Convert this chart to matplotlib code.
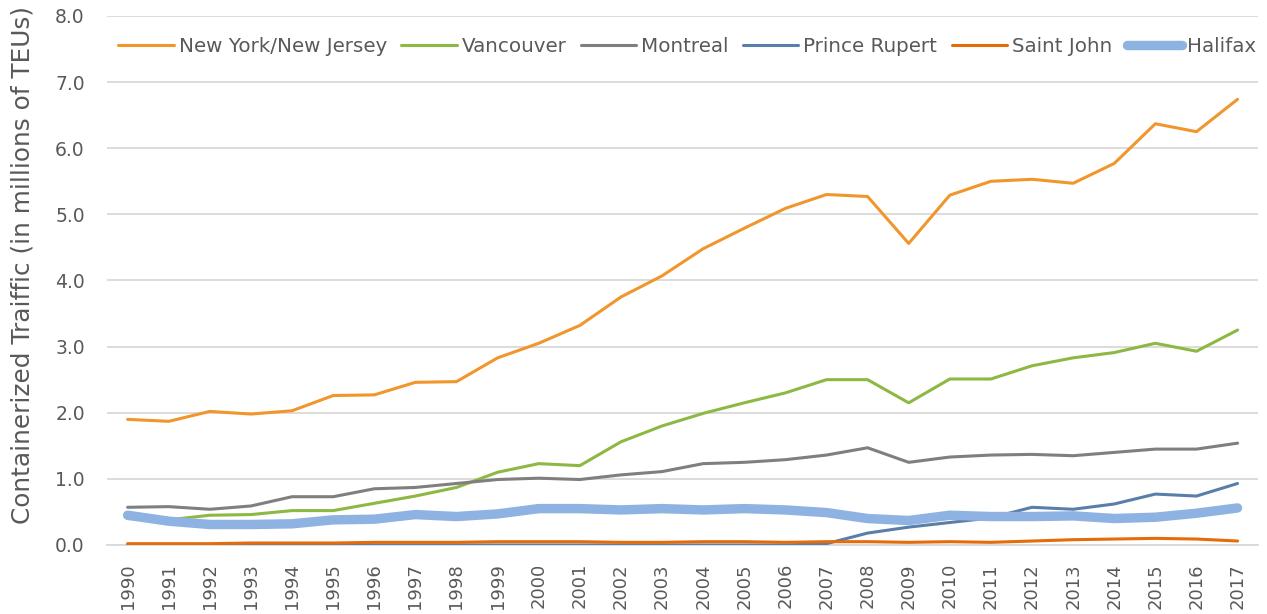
import matplotlib
matplotlib.use("Agg")
import matplotlib.pyplot as plt

years = list(range(1990, 2018))
ny_nj = [1.90, 1.87, 2.02, 1.98, 2.03, 2.26, 2.27, 2.46, 2.47, 2.83, 3.05, 3.32, 3.75, 4.07,
         4.48, 4.79, 5.09, 5.30, 5.27, 4.56, 5.29, 5.50, 5.53, 5.47, 5.77, 6.37, 6.25, 6.74]
vancouver = [0.40, 0.38, 0.45, 0.46, 0.52, 0.52, 0.63, 0.74, 0.87, 1.10, 1.23, 1.20, 1.56, 1.80,
             1.99, 2.15, 2.30, 2.50, 2.50, 2.15, 2.51, 2.51, 2.71, 2.83, 2.91, 3.05, 2.93, 3.25]
montreal = [0.57, 0.58, 0.54, 0.59, 0.73, 0.73, 0.85, 0.87, 0.93, 0.99, 1.01, 0.99, 1.06, 1.11,
            1.23, 1.25, 1.29, 1.36, 1.47, 1.25, 1.33, 1.36, 1.37, 1.35, 1.40, 1.45, 1.45, 1.54]
prince_rupert = [0.00, 0.00, 0.00, 0.00, 0.00, 0.00, 0.00, 0.00, 0.00, 0.00, 0.00, 0.00, 0.00, 0.00,
                 0.00, 0.00, 0.00, 0.02, 0.18, 0.27, 0.34, 0.41, 0.57, 0.54, 0.62, 0.77, 0.74, 0.93]
saint_john = [0.02, 0.02, 0.02, 0.03, 0.03, 0.03, 0.04, 0.04, 0.04, 0.05, 0.05, 0.05, 0.04, 0.04,
              0.05, 0.05, 0.04, 0.05, 0.05, 0.04, 0.05, 0.04, 0.06, 0.08, 0.09, 0.10, 0.09, 0.06]
halifax = [0.45, 0.36, 0.31, 0.31, 0.32, 0.38, 0.39, 0.46, 0.43, 0.47, 0.55, 0.55, 0.53, 0.55,
           0.53, 0.55, 0.53, 0.49, 0.40, 0.37, 0.45, 0.43, 0.43, 0.44, 0.40, 0.42, 0.48, 0.56]

yticks = [0, 1, 2, 3, 4, 5, 6, 7, 8]

plt.rcParams['font.family'] = ['DejaVu Sans']
fig = plt.figure(figsize=(12.67, 6.14), dpi=100)
ax = fig.add_axes([0.0845, 0.1124, 0.9085, 0.8616])

series = [
    ("New York/New Jersey", ny_nj, "#F0962D", 2.2),
    ("Vancouver", vancouver, "#8DB843", 2.2),
    ("Montreal", montreal, "#7F7F7F", 2.2),
    ("Prince Rupert", prince_rupert, "#5A7EAA", 2.2),
    ("Saint John", saint_john, "#E46C0A", 2.2),
    ("Halifax", halifax, "#8EB3E2", 6.8),
]
for name, vals, col, lw in series:
    ax.plot(years, vals, color=col, lw=lw, label=name, solid_capstyle='round', zorder=3)

ax.set_xlim(1989.5, 2017.5)
ax.set_ylim(0, 8)
ax.set_yticks(yticks)
ax.set_yticklabels([f"{v:.1f}" for v in yticks])
ax.set_xticks(years)
ax.set_xticklabels([str(y) for y in years], rotation=90)
ax.tick_params(axis='both', length=0, colors='#595959')
ax.tick_params(axis='y', pad=16, labelsize=13.5)
ax.tick_params(axis='x', pad=13, labelsize=13)
ax.grid(axis='y', color='#D9D9D9', lw=1.3, zorder=0)
for s in ['top', 'right', 'left']:
    ax.spines[s].set_visible(False)
ax.spines['bottom'].set_color('#D9D9D9')
ax.spines['bottom'].set_linewidth(1.3)
ax.set_ylabel("Containerized Traiffic (in millions of TEUs)", fontsize=17.8, color='#595959')
ax.yaxis.set_label_coords(-0.0634, 0.529)

leg = ax.legend(loc='center', bbox_to_anchor=(0.504, 0.943), ncol=6, frameon=False,
                fontsize=14.3, handlelength=2.78, columnspacing=0.72, handletextpad=0.26,
                borderpad=0, borderaxespad=0)
for t in leg.get_texts():
    t.set_color('#595959')

fig.savefig("out.png", dpi=100)
